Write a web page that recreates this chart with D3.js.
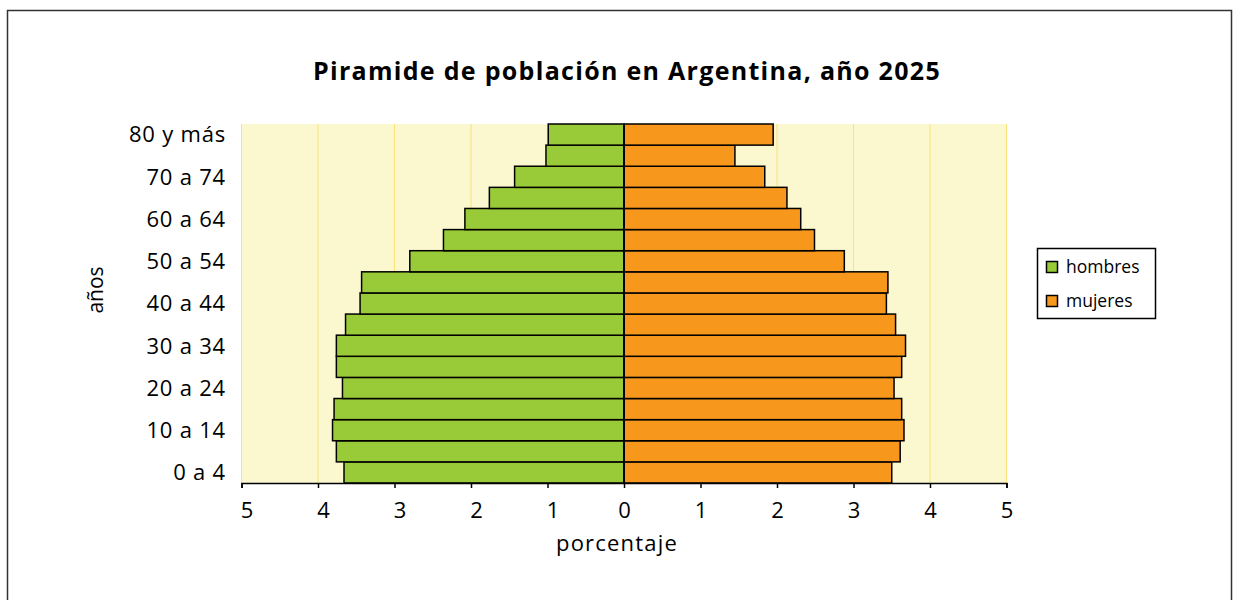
<!DOCTYPE html>
<html>
<head>
<meta charset="utf-8">
<script src="https://cdn.jsdelivr.net/npm/d3@7"></script>
<style>
  body { margin: 0; background: #fff; }
  svg { display: block; font-family: "Open Sans", sans-serif; }
</style>
</head>
<body>
<svg id="chart" width="1233" height="600"></svg>
<script>
// age groups, bottom to top
const categories = ["0 a 4", "5 a 9", "10 a 14", "15 a 19", "20 a 24", "25 a 29", "30 a 34", "35 a 39",
    "40 a 44", "45 a 49", "50 a 54", "55 a 59", "60 a 64", "65 a 69", "70 a 74", "75 a 79", "80 y más"];
const hombres = [3.66, 3.76, 3.81, 3.79, 3.68, 3.76, 3.76, 3.64, 3.45, 3.43, 2.80, 2.36, 2.08, 1.76, 1.43, 1.02, 0.99];
const mujeres = [3.50, 3.61, 3.66, 3.63, 3.53, 3.63, 3.68, 3.55, 3.43, 3.45, 2.88, 2.49, 2.31, 2.13, 1.84, 1.45, 1.95];
const xTicks = [-5, -4, -3, -2, -1, 0, 1, 2, 3, 4, 5];
const seriesNames = ["hombres", "mujeres"];
const colors = ["#99cb38", "#f7981d"];

let svg = d3.select("#chart");

// outer frame
svg.append("rect")
    .attr("x", 7.5).attr("y", 10.5)
    .attr("width", 1224).attr("height", 600)
    .attr("fill", "none").attr("stroke", "#333").attr("stroke-width", 1.5);

let x = d3.scaleLinear().domain([-5, 5]).range([241.5, 1006.5]);
let y = d3.scaleBand().domain(categories.slice().reverse()).range([124, 483]).padding(0);

// plot background
svg.append("rect")
    .attr("x", x(-5)).attr("y", 124)
    .attr("width", x(5) - x(-5)).attr("height", 359)
    .attr("fill", "#fbf8cf");

// grid
svg.selectAll(".grid").data(xTicks).enter().append("line")
    .attr("x1", d => x(d)).attr("x2", d => x(d))
    .attr("y1", 124).attr("y2", 483)
    .attr("stroke", "#fbe27a").attr("stroke-width", 1);

// bars
svg.selectAll(".hombre").data(categories).enter().append("rect")
    .attr("x", (d, i) => x(-hombres[i]))
    .attr("y", d => y(d))
    .attr("width", (d, i) => x(0) - x(-hombres[i]))
    .attr("height", y.bandwidth())
    .attr("fill", colors[0]).attr("stroke", "#000").attr("stroke-width", 1.5);

svg.selectAll(".mujer").data(categories).enter().append("rect")
    .attr("x", x(0))
    .attr("y", d => y(d))
    .attr("width", (d, i) => x(mujeres[i]) - x(0))
    .attr("height", y.bandwidth())
    .attr("fill", colors[1]).attr("stroke", "#000").attr("stroke-width", 1.5);

svg.append("line")
    .attr("x1", x(0)).attr("x2", x(0)).attr("y1", 124).attr("y2", 483)
    .attr("stroke", "#000").attr("stroke-width", 2);

// x axis
let xAxis = svg.append("g")
    .attr("transform", "translate(0,483)")
    .call(d3.axisBottom(x).tickValues(xTicks).tickFormat(d => Math.abs(d)).tickSizeOuter(0).tickSize(5).tickPadding(14));
xAxis.select(".domain").attr("stroke", "#000").attr("stroke-width", 1.5);
xAxis.selectAll(".tick line").attr("stroke", "#000").attr("stroke-width", 1.5);
xAxis.selectAll("text").attr("font-size", 22).attr("font-family", "Open Sans").attr("fill", "#000")
    .attr("dx", d => d < 0 ? 5 : 0);

// y axis labels, every other group
svg.selectAll(".ylab").data(categories.filter((d, i) => i % 2 === 0)).enter().append("text")
    .attr("x", 226)
    .attr("y", d => y(d) + y.bandwidth() / 2)
    .attr("dy", "0.36em")
    .attr("text-anchor", "end")
    .attr("font-size", 22)
    .attr("letter-spacing", 0.8)
    .text(d => d);

// titles
svg.append("text")
    .attr("x", 627).attr("y", 80)
    .attr("text-anchor", "middle")
    .attr("font-size", 25).attr("font-weight", "bold")
    .attr("letter-spacing", 1.3)
    .text("Piramide de población en Argentina, año 2025");

svg.append("text")
    .attr("x", 617).attr("y", 551)
    .attr("text-anchor", "middle")
    .attr("font-size", 22)
    .attr("letter-spacing", 1.2)
    .text("porcentaje");

svg.append("text")
    .attr("transform", "translate(103,290) rotate(-90)")
    .attr("text-anchor", "middle")
    .attr("font-size", 21)
    .text("años");

// legend
let legend = svg.append("g");
legend.append("rect")
    .attr("x", 1037.5).attr("y", 248.5).attr("width", 118).attr("height", 70)
    .attr("fill", "#fff").attr("stroke", "#000").attr("stroke-width", 1.5);
seriesNames.forEach(function (name, i) {
    legend.append("rect")
        .attr("x", 1046.5).attr("y", 261.5 + i * 34).attr("width", 11).attr("height", 11)
        .attr("fill", colors[i]).attr("stroke", "#000").attr("stroke-width", 1.5);
    legend.append("text")
        .attr("x", 1066).attr("y", 267 + i * 34).attr("dy", "0.35em")
        .attr("font-size", 17.5)
        .text(name);
});
</script>
</body>
</html>
